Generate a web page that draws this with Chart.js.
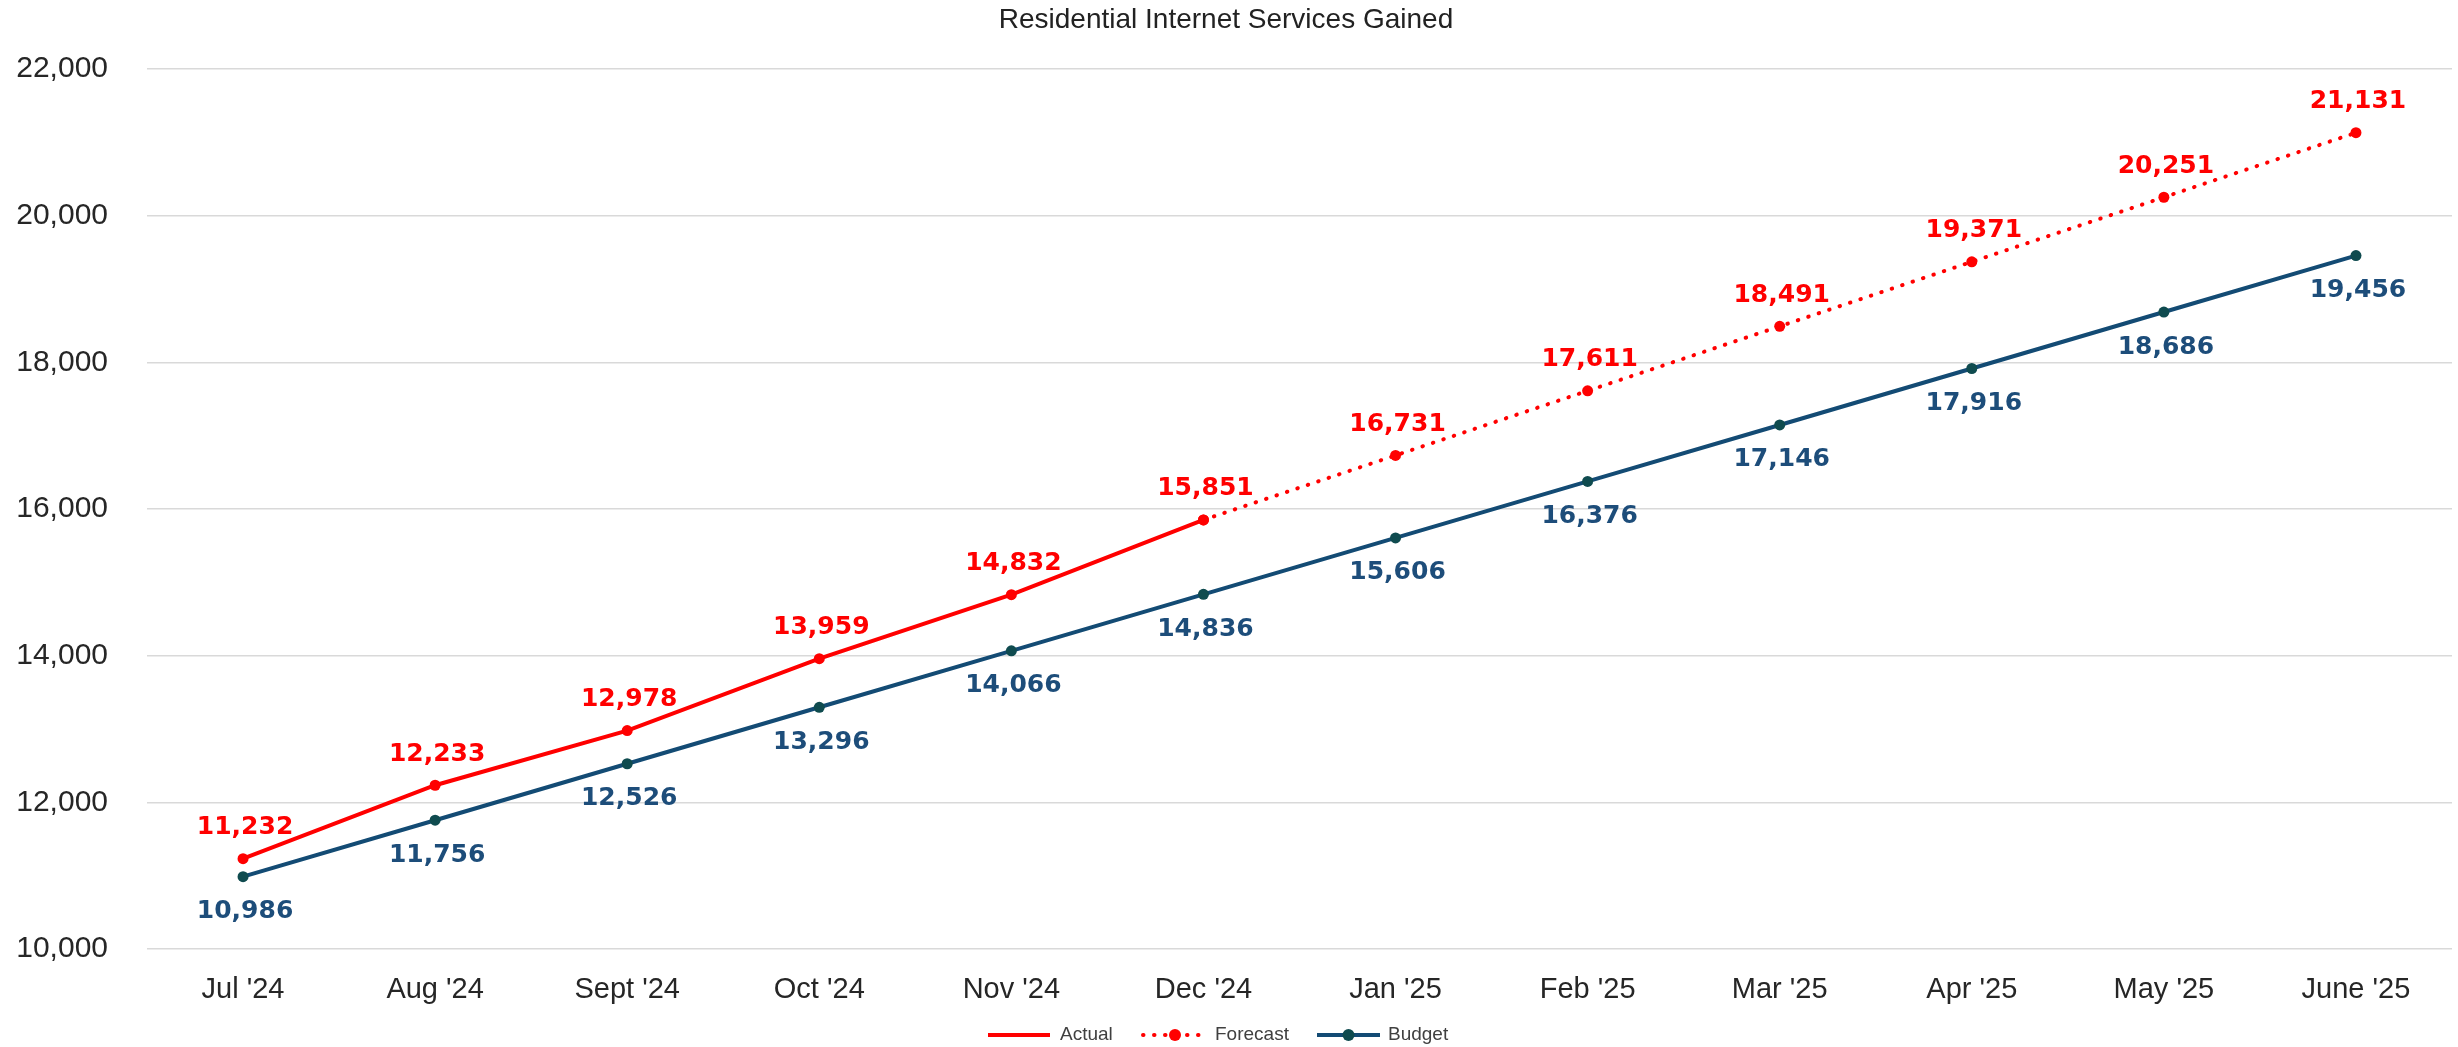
<!DOCTYPE html>
<html>
<head>
<meta charset="utf-8">
<style>
  html, body { margin: 0; padding: 0; background: #ffffff; }
  #wrap { width: 2458px; height: 1047px; position: relative; }
</style>
<script src="https://cdn.jsdelivr.net/npm/chart.js@4.4.1/dist/chart.umd.min.js"></script>
</head>
<body>
<div id="wrap"><canvas id="c" width="2458" height="1047"></canvas></div>
<script>
// ---- data ----
const categories = ["Jul '24", "Aug '24", "Sept '24", "Oct '24", "Nov '24", "Dec '24",
                    "Jan '25", "Feb '25", "Mar '25", "Apr '25", "May '25", "June '25"];
const actualValues   = [11232, 12233, 12978, 13959, 14832, 15851, null, null, null, null, null, null];
const forecastValues = [null, null, null, null, null, 15851, 16731, 17611, 18491, 19371, 20251, 21131];
const budgetValues   = [10986, 11756, 12526, 13296, 14066, 14836, 15606, 16376, 17146, 17916, 18686, 19456];
const yMin = 10000, yMax = 22000, yStep = 2000;
const titleText = "Residential Internet Services Gained";
const seriesNames = ["Actual", "Forecast", "Budget"];

const RED = '#ff0000';
const NAVY = '#134b74';
const NAVY_PT = '#0f4b4f';
const NAVY_LBL = '#1d4d7a';

// value labels drawn at the library-computed point positions
const valueLabels = {
  id: 'valueLabels',
  afterDatasetsDraw(chart) {
    const ctx = chart.ctx;
    ctx.save();
    ctx.font = 'bold 25px "DejaVu Sans", sans-serif';
    ctx.textAlign = 'center';
    ctx.textBaseline = 'middle';
    chart.data.datasets.forEach((ds, di) => {
      const meta = chart.getDatasetMeta(di);
      meta.data.forEach((pt, i) => {
        const v = ds.data[i];
        if (v === null || v === undefined) return;
        if (ds.skipLabelWhere && ds.skipLabelWhere[i] !== null && ds.skipLabelWhere[i] !== undefined) return;
        ctx.fillStyle = ds.labelColor;
        ctx.fillText(v.toLocaleString('en-US'), pt.x + 2, pt.y + ds.labelOffset);
      });
    });
    ctx.restore();
  }
};

// legend drawn with dataset styles
const customLegend = {
  id: 'customLegend',
  afterDraw(chart) {
    const ctx = chart.ctx;
    const y = 1035;
    const items = [
      { ds: 0, x0: 988, x1: 1050, tx: 1060, marker: false },
      { ds: 1, x0: 1143, x1: 1207, tx: 1215, marker: true },
      { ds: 2, x0: 1317, x1: 1380, tx: 1388, marker: true }
    ];
    ctx.save();
    items.forEach(it => {
      const ds = chart.data.datasets[it.ds];
      ctx.strokeStyle = ds.borderColor;
      ctx.lineWidth = ds.borderWidth;
      ctx.lineCap = ds.borderCapStyle || 'butt';
      ctx.setLineDash(ds.borderDash || []);
      ctx.beginPath();
      ctx.moveTo(it.x0, y);
      ctx.lineTo(it.x1, y);
      ctx.stroke();
      ctx.setLineDash([]);
      if (it.marker) {
        ctx.fillStyle = ds.pointBackgroundColor;
        ctx.beginPath();
        ctx.arc((it.x0 + it.x1) / 2, y, 6, 0, Math.PI * 2);
        ctx.fill();
      }
      ctx.fillStyle = '#404040';
      ctx.font = '19px "Liberation Sans", Arial, sans-serif';
      ctx.textAlign = 'left';
      ctx.textBaseline = 'middle';
      ctx.fillText(ds.label, it.tx, y);
    });
    ctx.restore();
  }
};

new Chart(document.getElementById('c'), {
  type: 'line',
  data: {
    labels: categories,
    datasets: [
      {
        label: seriesNames[0],
        data: actualValues,
        borderColor: RED,
        backgroundColor: RED,
        pointBackgroundColor: RED,
        pointBorderColor: RED,
        borderWidth: 4,
        pointRadius: 5.5,
        pointBorderWidth: 0,
        labelColor: RED,
        labelOffset: -31,
        spanGaps: false,
        order: 2
      },
      {
        label: seriesNames[1],
        data: forecastValues,
        borderColor: RED,
        backgroundColor: RED,
        pointBackgroundColor: RED,
        pointBorderColor: RED,
        borderWidth: 4,
        borderDash: [0.5, 10.5],
        borderCapStyle: 'round',
        pointRadius: 5.5,
        pointBorderWidth: 0,
        labelColor: RED,
        labelOffset: -31,
        skipLabelWhere: actualValues,
        spanGaps: false,
        order: 3
      },
      {
        label: seriesNames[2],
        data: budgetValues,
        borderColor: NAVY,
        backgroundColor: NAVY,
        pointBackgroundColor: NAVY_PT,
        pointBorderColor: NAVY_PT,
        borderWidth: 4,
        pointRadius: 5.5,
        pointBorderWidth: 0,
        labelColor: NAVY_LBL,
        labelOffset: 35,
        order: 1
      }
    ]
  },
  options: {
    responsive: false,
    animation: false,
    devicePixelRatio: 1,
    layout: { padding: { left: 0, right: 6, top: 0, bottom: 0 } },
    plugins: {
      legend: { display: false },
      tooltip: { enabled: false },
      title: {
        display: true,
        text: titleText,
        color: '#222222',
        font: { family: '"Liberation Sans", Arial, sans-serif', size: 28, weight: 'normal', lineHeight: 1.2 },
        padding: { top: 3, bottom: 32.4 }
      }
    },
    scales: {
      x: {
        type: 'category',
        offset: true,
        grid: { display: false, drawTicks: false, tickLength: 0 },
        border: { display: false },
        ticks: {
          color: '#262626',
          font: { family: '"Liberation Sans", Arial, sans-serif', size: 29 },
          padding: 24,
          maxRotation: 0,
          autoSkip: false
        },
        afterFit(scale) { scale.height = 98; }
      },
      y: {
        min: yMin,
        max: yMax,
        grid: { color: '#d9d9d9', lineWidth: 1.5, drawTicks: false, tickLength: 0 },
        border: { display: false },
        ticks: {
          stepSize: yStep,
          color: '#262626',
          font: { family: '"Liberation Sans", Arial, sans-serif', size: 30 },
          padding: 39,
          callback: v => v.toLocaleString('en-US')
        },
        afterFit(scale) { scale.width = 147; }
      }
    }
  },
  plugins: [valueLabels, customLegend]
});
</script>
</body>
</html>
